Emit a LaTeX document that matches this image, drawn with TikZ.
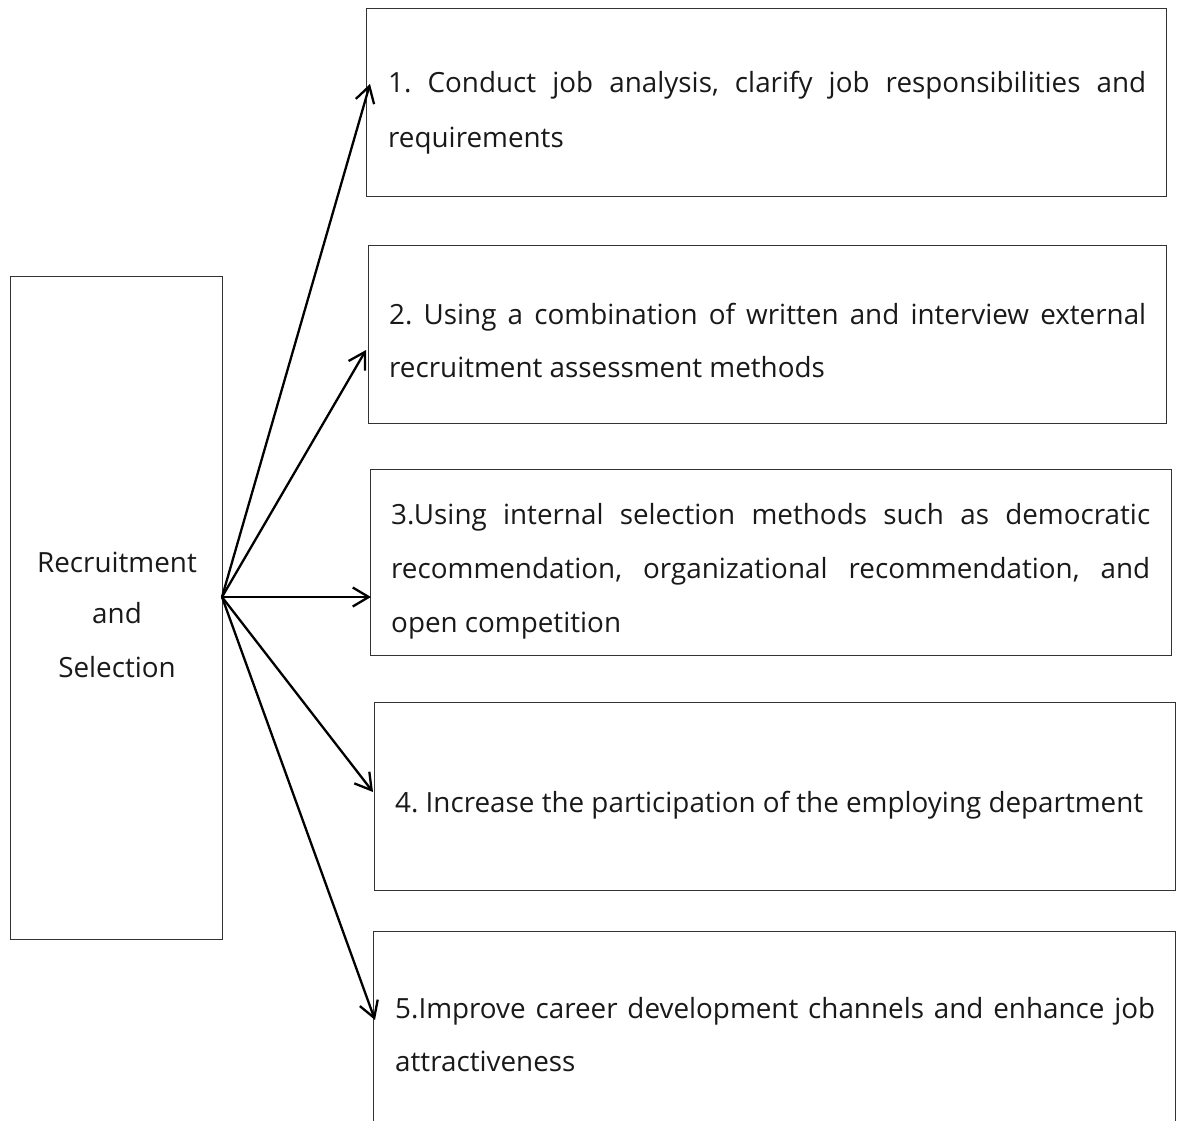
\documentclass[tikz,border=0pt]{standalone}
\usepackage{fontspec}
\setmainfont{Open Sans}
\usetikzlibrary{arrows.meta}
\newlength\reflen
\frenchspacing
\AtBeginDocument{%
  \frenchspacing
  \settowidth\reflen{\normalfont\fontsize{20pt}{24pt}\selectfont 4. Increase the participation of the employing department}%
  \pgfmathsetmacro\fs{20*748/\reflen}%
  \xdef\fs{\fs}}
\newcommand\mainfs{\fontsize{\fs pt}{\fs pt}\selectfont\frenchspacing}
\begin{document}
\begin{tikzpicture}[x=1pt,y=-1pt,
  box/.style={draw=black!80, line width=1pt, rectangle, inner sep=0pt, anchor=north west},
  txt/.style={anchor=base west, inner sep=0pt, font=\mainfs, text=black!90},
  ctxt/.style={anchor=base, inner sep=0pt, font=\mainfs, text=black!90},
  conn/.style={line width=2.3pt, -{Straight Barb[length=16pt,width=19pt]}}]
\clip (0,0) rectangle (1181,1120);
% boxes
\node[box, minimum width=212pt, minimum height=663pt] (left) at (10,276) {};
\node[box, minimum width=800pt, minimum height=188pt] (b1) at (366,8) {};
\node[box, minimum width=798pt, minimum height=178pt] (b2) at (368,245) {};
\node[box, minimum width=801pt, minimum height=186pt] (b3) at (370,469) {};
\node[box, minimum width=801pt, minimum height=188pt] (b4) at (374,702) {};
\node[box, minimum width=802pt, minimum height=220pt] (b5) at (373,931) {};
% left text
\node[ctxt] (l1) at (117,572) {Recruitment};
\node[ctxt] (l2) at (117,623) {and};
\node[ctxt] (l3) at (117,677) {Selection};
% box texts
\node[txt] (t11) at (388,92) {\makebox[758pt][s]{1. Conduct job analysis, clarify job responsibilities and}};
\node[txt] (t12) at (388,147) {requirements};
\node[txt] (t21) at (389,324) {\makebox[757pt][s]{2. Using a combination of written and interview external}};
\node[txt] (t22) at (389,377) {recruitment assessment methods};
\node[txt] (t31) at (391,524) {\makebox[759pt][s]{3.Using internal selection methods such as democratic}};
\node[txt] (t32) at (391,578) {\makebox[759pt][s]{recommendation, organizational recommendation, and}};
\node[txt] (t33) at (391,632) {open competition};
\node[txt] (t41) at (395,812) {4. Increase the participation of the employing department};
\node[txt] (t51) at (395,1018) {\makebox[760pt][s]{5.Improve career development channels and enhance job}};
\node[txt] (t52) at (395,1071) {attractiveness};
% connectors
\coordinate (src) at (222,597);
\coordinate (tip1) at (370,84);
\coordinate (tip2) at (366,350);
\coordinate (tip3) at (371,597);
\coordinate (tip4) at (373,792);
\coordinate (tip5) at (375,1020);
\draw[conn] (src) -- (tip1);
\draw[conn] (src) -- (tip2);
\draw[conn] (src) -- (tip3);
\draw[conn] (src) -- (tip4);
\draw[conn] (src) -- (tip5);
\end{tikzpicture}
\end{document}
